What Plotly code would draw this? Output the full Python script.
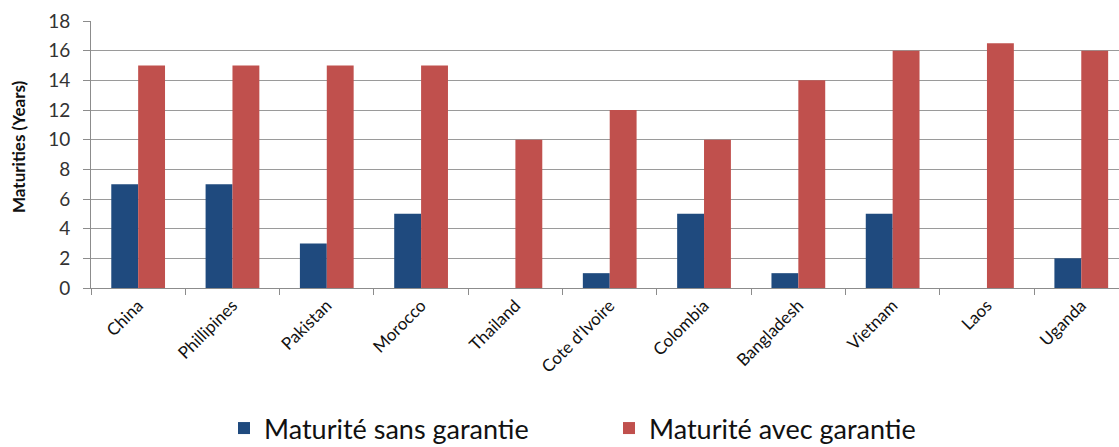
import plotly.graph_objects as go

countries = ["China", "Phillipines", "Pakistan", "Morocco", "Thailand", "Cote d'Ivoire",
             "Colombia", "Bangladesh", "Vietnam", "Laos", "Uganda"]
sans_garantie = [7, 7, 3, 5, 0, 1, 5, 1, 5, 0, 2]
avec_garantie = [15, 15, 15, 15, 10, 12, 10, 14, 16, 16.5, 16]
y_ticks = [0, 2, 4, 6, 8, 10, 12, 14, 16, 18]

W, H = 1119, 447
L, R, T, B = 91, 0, 21, 159
PW, PH = W - L - R, H - T - B

fig = go.Figure()
fig.add_trace(go.Bar(x=countries, y=sans_garantie, name="Maturité sans garantie",
                     marker=dict(color="#1F4A7E", line=dict(width=0))))
fig.add_trace(go.Bar(x=countries, y=avec_garantie, name="Maturité avec garantie",
                     marker=dict(color="#C0504D", line=dict(width=0))))

fig.update_layout(
    width=W, height=H,
    margin=dict(l=L, r=R, t=T, b=B, autoexpand=False),
    paper_bgcolor="white", plot_bgcolor="white",
    barmode="group", bargap=0.43, bargroupgap=0,
    font=dict(family="Lato, Carlito, sans-serif", color="#222222"),
    showlegend=True,
    legend=dict(orientation="h", x=(224 - L) / PW, xanchor="left",
                y=-(404 - (H - B)) / PH, yanchor="top",
                font=dict(size=27, color="#111111"), itemwidth=30,
                entrywidth=340, entrywidthmode="pixels", traceorder="normal"),
    annotations=[dict(text="<b>Maturities (Years)</b>", xref="paper", yref="paper",
                      x=(18 - L) / PW, y=((H - B) - 147) / PH, xanchor="center", yanchor="middle",
                      textangle=-90, showarrow=False, font=dict(size=17, color="#111111"))],
)
fig.update_xaxes(
    range=[-0.5, 10.4], tickangle=-45, tickfont=dict(size=17, color="#111111"),
    showline=True, linecolor="#8c8c8c", linewidth=1, automargin=False,
    ticks="outside", tickson="boundaries", ticklen=6, tickcolor="#8c8c8c",
    showgrid=False, fixedrange=True,
)
fig.update_yaxes(
    range=[0, 18], tickvals=y_ticks, tickfont=dict(size=19, color="#333333"),
    showline=True, linecolor="#8c8c8c", linewidth=1, automargin=False,
    ticks="outside", ticklen=7, tickcolor="#8c8c8c", ticklabelstandoff=9,
    showgrid=True, gridcolor="#9a9a9a", gridwidth=1, zeroline=False, fixedrange=True,
)

fig.write_html("out.html", config={"displayModeBar": False},
               post_script="document.body.style.margin='0';")
